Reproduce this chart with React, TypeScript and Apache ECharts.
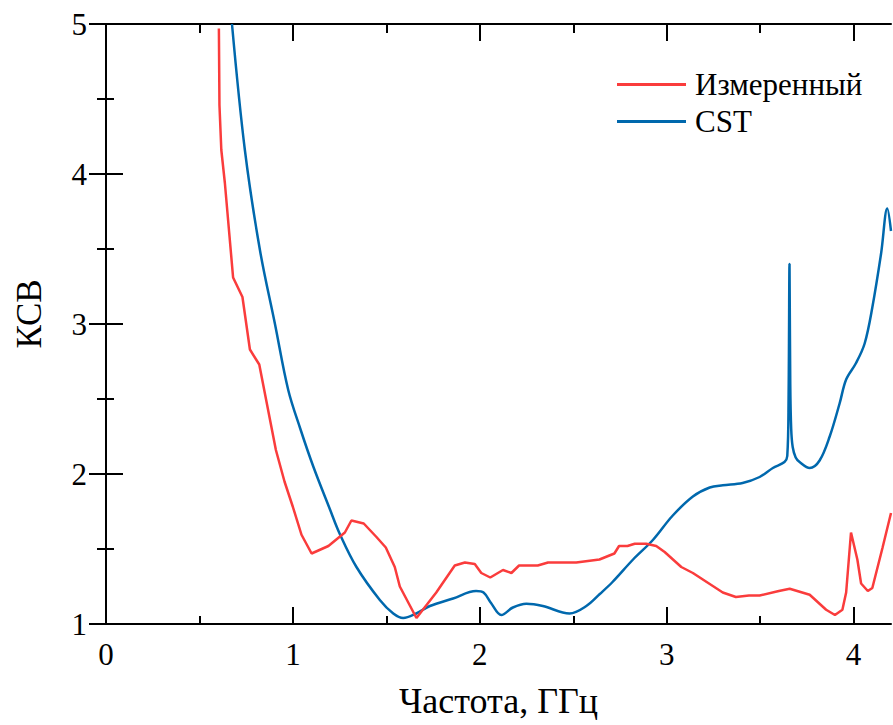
import React, { useEffect, useRef } from "react";
import * as echarts from "echarts";

const measuredFreq = [0.604, 0.607, 0.617, 0.636, 0.68, 0.73, 0.77, 0.82, 0.909, 0.955, 1.0, 1.046, 1.10, 1.19, 1.278, 1.313, 1.379, 1.447, 1.497, 1.545, 1.572, 1.661, 1.767, 1.866, 1.92, 1.973, 2.008, 2.056, 2.124, 2.169, 2.21, 2.31, 2.365, 2.516, 2.64, 2.72, 2.745, 2.79, 2.829, 2.89, 2.944, 2.989, 3.078, 3.14, 3.30, 3.37, 3.44, 3.497, 3.60, 3.658, 3.765, 3.853, 3.90, 3.94, 3.96, 3.986, 4.02, 4.04, 4.076, 4.10, 4.155, 4.20];
const measuredVswr = [4.97, 4.46, 4.16, 3.94, 3.31, 3.18, 2.83, 2.73, 2.16, 1.95, 1.78, 1.595, 1.47, 1.52, 1.61, 1.69, 1.67, 1.58, 1.51, 1.38, 1.25, 1.04, 1.21, 1.39, 1.41, 1.40, 1.34, 1.31, 1.36, 1.34, 1.39, 1.39, 1.41, 1.41, 1.43, 1.47, 1.52, 1.52, 1.535, 1.535, 1.52, 1.48, 1.38, 1.34, 1.21, 1.18, 1.19, 1.19, 1.22, 1.235, 1.195, 1.095, 1.06, 1.095, 1.21, 1.61, 1.43, 1.27, 1.22, 1.24, 1.51, 1.74];

const cstFreq = [0.674, 0.743, 0.824, 0.904, 0.975, 1.04, 1.109, 1.198, 1.251, 1.34, 1.465, 1.537, 1.59, 1.66, 1.733, 1.857, 1.98, 2.02, 2.06, 2.115, 2.177, 2.249, 2.337, 2.48, 2.57, 2.642, 2.71, 2.82, 2.926, 3.03, 3.14, 3.23, 3.30, 3.406, 3.497, 3.568, 3.63, 3.645, 3.652, 3.657, 3.661, 3.666, 3.674, 3.69, 3.711, 3.765, 3.818, 3.872, 3.925, 3.96, 4.013, 4.059, 4.10, 4.147, 4.18, 4.2];
const cstVswr = [5.0, 4.16, 3.49, 3.0, 2.56, 2.30, 2.05, 1.765, 1.60, 1.38, 1.16, 1.07, 1.04, 1.07, 1.12, 1.17, 1.22, 1.21, 1.14, 1.06, 1.11, 1.135, 1.12, 1.07, 1.12, 1.20, 1.28, 1.43, 1.56, 1.72, 1.85, 1.91, 1.925, 1.94, 1.98, 2.04, 2.08, 2.12, 2.5, 3.40, 2.6, 2.3, 2.18, 2.11, 2.08, 2.04, 2.09, 2.25, 2.47, 2.63, 2.74, 2.87, 3.11, 3.47, 3.77, 3.62];

const xMajor = [0, 1, 2, 3, 4];
const xMinor = [0.5, 1.5, 2.5, 3.5];
const yMajor = [1, 2, 3, 4, 5];
const yMinor = [1.5, 2.5, 3.5, 4.5];

const seriesNames = ["Измеренный", "CST"];

const FONT = "'Liberation Serif', 'Times New Roman', serif";

export default function App() {
  const ref = useRef<HTMLDivElement>(null);
  useEffect(() => {
    if (!ref.current) return;
    const chart = echarts.init(ref.current, null, { renderer: "svg" });
    const line = { show: true, lineStyle: { color: "#000", width: 2 } };
    const mkX = (pos: string, vals: number[], len: number, showLine: boolean, labels: boolean, extra: any = {}) => ({
      type: "value",
      position: pos,
      min: 0,
      max: 4.2,
      interval: 1,
      axisLine: showLine ? line : { show: false },
      axisTick: { show: true, inside: true, length: len, customValues: vals, lineStyle: { color: "#000", width: 2 } },
      axisLabel: labels
        ? { show: true, customValues: xMajor, fontSize: 31, color: "#000", fontFamily: FONT, margin: 15 }
        : { show: false },
      splitLine: { show: false },
      ...extra,
    });
    const mkY = (pos: string, vals: number[], len: number, showLine: boolean, labels: boolean, extra: any = {}) => ({
      type: "value",
      position: pos,
      min: 1,
      max: 5,
      interval: 1,
      axisLine: showLine ? line : { show: false },
      axisTick: { show: true, inside: true, length: len, customValues: vals, lineStyle: { color: "#000", width: 2 } },
      axisLabel: labels
        ? { show: true, customValues: yMajor, fontSize: 31, color: "#000", fontFamily: FONT, margin: 19 }
        : { show: false },
      splitLine: { show: false },
      ...extra,
    });
    const toPairs = (xs: number[], ys: number[]) => xs.map((x, i) => [x, ys[i]]);
    chart.setOption({
      animation: false,
      grid: { left: 106, right: 2, top: 24, bottom: 101, containLabel: false, outerBoundsMode: "none" },
      legend: {
        orient: "vertical",
        left: 612,
        top: 64,
        icon: "rect",
        itemWidth: 69,
        itemHeight: 3,
        itemGap: 6,
        textStyle: { fontSize: 31, fontFamily: FONT, color: "#000", padding: [0, 0, 0, 4] },
        data: seriesNames,
      },
      xAxis: [
        mkX("bottom", xMajor, 17, true, true, {
          name: "Частота, ГГц",
          nameLocation: "middle",
          nameGap: 59,
          nameTextStyle: { fontSize: 36, fontFamily: FONT, color: "#000" },
        }),
        mkX("bottom", xMinor, 8, false, false),
        mkX("top", xMajor, 17, true, false),
        mkX("top", xMinor, 9, false, false),
      ],
      yAxis: [
        mkY("left", yMajor, 17, true, true, {
          name: "КСВ",
          nameLocation: "middle",
          nameGap: 59,
          nameTextStyle: { fontSize: 35, fontFamily: FONT, color: "#000", padding: [0, 0, 0, 20] },
        }),
        mkY("left", yMinor, 8, false, false),
        mkY("right", yMajor, 17, true, false),
        mkY("right", yMinor, 9, false, false),
      ],
      series: [
        {
          name: seriesNames[0],
          type: "line",
          xAxisIndex: 0,
          yAxisIndex: 0,
          data: toPairs(measuredFreq, measuredVswr),
          symbol: "none",
          lineStyle: { color: "#fa3c3c", width: 2.5 },
          itemStyle: { color: "#fa3c3c" },
          z: 3,
        },
        {
          name: seriesNames[1],
          type: "line",
          xAxisIndex: 0,
          yAxisIndex: 0,
          data: toPairs(cstFreq, cstVswr),
          symbol: "none",
          smooth: 0.35,
          lineStyle: { color: "#0068ad", width: 2.5 },
          itemStyle: { color: "#0068ad" },
          z: 2,
        },
      ],
    });
    return () => chart.dispose();
  }, []);
  return <div ref={ref} style={{ width: 893, height: 725, position: "absolute", left: 0, top: 0 }} />;
}
